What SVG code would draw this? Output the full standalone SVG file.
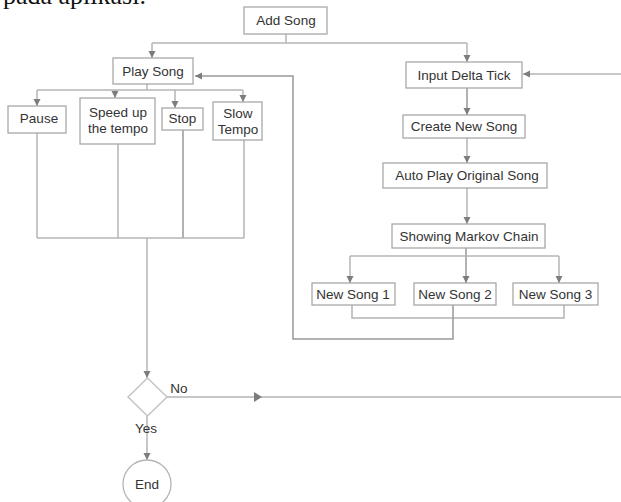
<svg xmlns="http://www.w3.org/2000/svg" width="621" height="502" viewBox="0 0 621 502">
<style>
.box{fill:#fff;stroke:#a8a8a8;stroke-width:1.3}
.t{font-family:"Liberation Sans",Arial,sans-serif;font-size:13.5px;fill:#333;text-anchor:middle}
.c{fill:none;stroke:#b4b4b4;stroke-width:1.5}
.cd{fill:none;stroke:#999;stroke-width:1.5}
.ah{fill:#7d7d7d}
</style>
<defs>
<marker id="arr" viewBox="0 0 10 10" refX="10" refY="5" markerWidth="7" markerHeight="9" markerUnits="userSpaceOnUse" orient="auto">
<path d="M0,0 L10,5 L0,10 Z" class="ah"/>
</marker>
<marker id="arrB" viewBox="0 0 10 10" refX="10" refY="5" markerWidth="7" markerHeight="11" markerUnits="userSpaceOnUse" orient="auto">
<path d="M0,0 L10,5 L0,10 Z" class="ah"/>
</marker>
</defs>
<rect width="621" height="502" fill="#fff"/>
<text x="3" y="4" font-family="'Liberation Serif','Times New Roman',serif" font-size="26" fill="#111">pada aplikasi.</text>

<g id="connectors">
<!-- Add Song -> Play Song / Input Delta Tick -->
<path class="c" d="M286,34 V43"/>
<path class="c" d="M152,43 H467"/>
<path class="c" d="M152,43 V58" marker-end="url(#arrB)"/>
<path class="c" d="M467,43 V62" marker-end="url(#arrB)"/>
<!-- Play Song -> children -->
<path class="c" d="M147,84 V90"/>
<path class="c" d="M37,90 H243"/>
<path class="c" d="M37,90 V106" marker-end="url(#arrB)"/>
<path class="c" d="M115,90 V98" marker-end="url(#arrB)"/>
<path class="c" d="M175,90 V108" marker-end="url(#arrB)"/>
<path class="c" d="M243,90 V102" marker-end="url(#arrB)"/>
<!-- children merge -->
<path class="c" d="M37,133 V238"/>
<path class="c" d="M118,144 V238"/>
<path class="cd" d="M183,130 V238"/>
<path class="c" d="M244,140 V238"/>
<path class="c" d="M37,238 H244"/>
<path class="c" d="M147,238 V378" marker-end="url(#arrB)"/>
<!-- decision -->
<path class="c" d="M147,416 V460" marker-end="url(#arrB)"/>
<path class="c" d="M167,397 H621"/>
<path d="M254,392 L262,397 L254,402 Z" class="ah"/>
<!-- loop back to Input Delta Tick -->
<path class="c" d="M621,74 H523" marker-end="url(#arrB)"/>
<!-- right column -->
<path class="cd" d="M467,88 V115" marker-end="url(#arrB)"/>
<path class="c" d="M467,138 V163" marker-end="url(#arrB)"/>
<path class="c" d="M467,188 V224" marker-end="url(#arrB)"/>
<path class="cd" d="M466,248 V283" marker-end="url(#arrB)"/>
<path class="c" d="M350,256 H559"/>
<path class="c" d="M350,256 V283" marker-end="url(#arrB)"/>
<path class="c" d="M559,256 V283" marker-end="url(#arrB)"/>
<!-- new songs merge & back to Play Song -->
<path class="c" d="M352,305 V318 H564 V305"/>
<path class="cd" d="M453,305 V339 H293 V76 H195" marker-end="url(#arrB)"/>
</g>

<g id="add-song"><rect class="box" x="244" y="7" width="83" height="27"/><text class="t" x="286" y="25">Add Song</text></g>
<g id="play-song"><rect class="box" x="113" y="58" width="80" height="26"/><text class="t" x="153" y="76">Play Song</text></g>
<g id="pause"><rect class="box" x="8" y="106" width="58" height="27"/><text class="t" x="39" y="123">Pause</text></g>
<g id="speed-up"><rect class="box" x="80" y="98" width="75" height="46"/><text class="t" x="118" y="117">Speed up</text><text class="t" x="118" y="133">the tempo</text></g>
<g id="stop"><rect class="box" x="162" y="108" width="41" height="22"/><text class="t" x="182.5" y="123">Stop</text></g>
<g id="slow-tempo"><rect class="box" x="213" y="102" width="49" height="38"/><text class="t" x="238" y="118">Slow</text><text class="t" x="238" y="134">Tempo</text></g>
<g id="input-delta-tick"><rect class="box" x="406" y="62" width="116" height="26"/><text class="t" x="464" y="80">Input Delta Tick</text></g>
<g id="create-new-song"><rect class="box" x="403" y="115" width="122" height="23"/><text class="t" x="464" y="131">Create New Song</text></g>
<g id="auto-play"><rect class="box" x="383" y="163" width="164" height="25"/><text class="t" x="467" y="180">Auto Play Original Song</text></g>
<g id="markov"><rect class="box" x="392" y="224" width="153" height="24"/><text class="t" x="469" y="241">Showing Markov Chain</text></g>
<g id="new-song-1"><rect class="box" x="312" y="283" width="83" height="22"/><text class="t" x="353" y="299">New Song 1</text></g>
<g id="new-song-2"><rect class="box" x="414" y="283" width="82" height="22"/><text class="t" x="455" y="299">New Song 2</text></g>
<g id="new-song-3"><rect class="box" x="513" y="283" width="85" height="22"/><text class="t" x="555.5" y="299">New Song 3</text></g>
<g id="decision"><path d="M147.5,378 L167,397 L147.5,416 L128,397 Z" fill="#fff" stroke="#c4c4c4" stroke-width="1.5"/>
<text class="t" x="179" y="393">No</text><text class="t" x="146" y="433">Yes</text></g>
<g id="end"><circle cx="147" cy="484" r="24" fill="#fff" stroke="#b4b4b4" stroke-width="1.3"/><text class="t" x="147" y="489">End</text></g>
</svg>
